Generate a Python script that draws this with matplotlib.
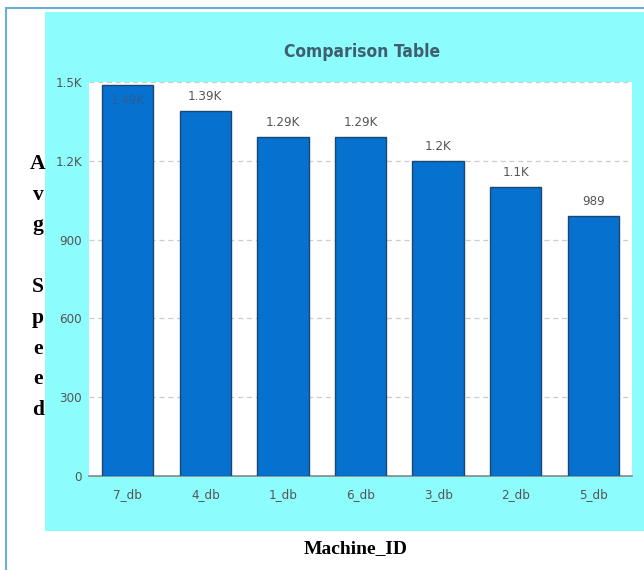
import matplotlib.pyplot as plt
from matplotlib.patches import Rectangle
from matplotlib.lines import Line2D

# chart data
machines = ['7_db', '4_db', '1_db', '6_db', '3_db', '2_db', '5_db']
avg_speed = [1490, 1390, 1290, 1290, 1200, 1100, 989]
labels = ['1.49K', '1.39K', '1.29K', '1.29K', '1.2K', '1.1K', '989']
yticks = [0, 300, 600, 900, 1200, 1500]
ytick_labels = ['0', '300', '600', '900', '1.2K', '1.5K']

SANS = ['DejaVu Sans']
W, H = 644, 570
fig = plt.figure(figsize=(W / 100, H / 100), dpi=100)
fig.patch.set_facecolor('white')

# outer frame (light blue line top and left) and cyan panel
fig.add_artist(Line2D([6 / W, 1], [1 - 8 / H, 1 - 8 / H], color='#6aaed6', lw=1.5))
fig.add_artist(Line2D([6 / W, 6 / W], [0, 1 - 8 / H], color='#6aaed6', lw=1.5))
fig.add_artist(Rectangle((45 / W, 1 - 531 / H), 1 - 45 / W, (531 - 12) / H,
                         transform=fig.transFigure, facecolor='#8cfcfc',
                         edgecolor='none', zorder=0))

ax = fig.add_axes([89 / W, 1 - 476 / H, (632 - 89) / W, (476 - 82) / H])
ax.set_facecolor('white')

x = range(len(machines))
ax.bar(x, avg_speed, width=0.66, color='#0671cf', edgecolor='#1c4770',
       linewidth=1.0, zorder=3)

for i, (v, lab) in enumerate(zip(avg_speed, labels)):
    if v > 1450:
        ax.text(i, v - 35, lab, ha='center', va='top', fontsize=9.5, stretch='condensed',
                color='#2a5f95', family=SANS, zorder=4)
    else:
        ax.text(i, v + 30, lab, ha='center', va='bottom', fontsize=9.5, stretch='condensed',
                color='#555555', family=SANS, zorder=4)

ax.set_xlim(-0.5, len(machines) - 0.5)
ax.set_ylim(0, 1500)
ax.set_yticks(yticks)
ax.set_yticklabels(ytick_labels)
ax.set_xticks(list(x))
ax.set_xticklabels(machines)
ax.yaxis.grid(True, linestyle=(0, (4, 3)), color='#cccccc', linewidth=0.9, zorder=0)
ax.tick_params(axis='y', length=0, pad=5, labelsize=9.5, labelcolor='#555555')
ax.tick_params(axis='x', length=0, pad=9, labelsize=9.5, labelcolor='#555555')
for lbl in ax.get_xticklabels() + ax.get_yticklabels():
    lbl.set_family(SANS)
    lbl.set_stretch('condensed')

for s in ['top', 'right', 'left']:
    ax.spines[s].set_visible(False)
ax.spines['bottom'].set_color('#888888')
ax.spines['bottom'].set_linewidth(1.2)

# title and axis labels
fig.text(362 / W, 1 - 52 / H, 'Comparison Table', ha='center', va='center',
         fontsize=12.5, fontweight='bold', color='#3d5f6e', stretch='condensed',
         family=SANS)
fig.text(38 / W, 1 - 287 / H, 'A\nv\ng\n\nS\np\ne\ne\nd', ha='center', va='center',
         fontsize=15.5, fontweight='bold', color='black', family='Liberation Serif',
         linespacing=1.72)
fig.text(356 / W, 1 - 549 / H, 'Machine_ID', ha='center', va='center',
         fontsize=14, fontweight='bold', color='black', family='Liberation Serif')

fig.savefig('out.png', dpi=100)
